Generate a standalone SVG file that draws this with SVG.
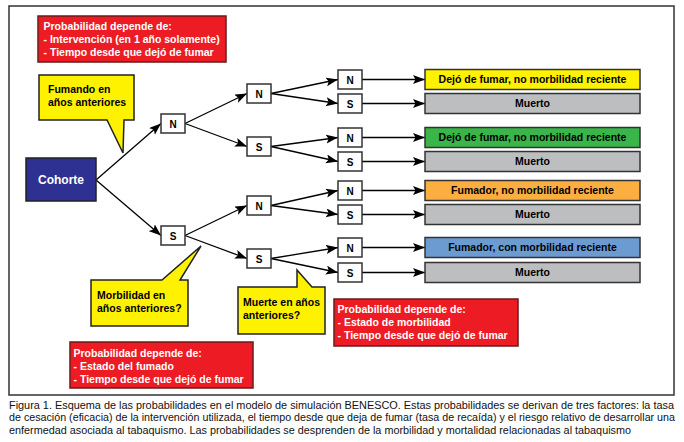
<svg xmlns="http://www.w3.org/2000/svg" width="684" height="442" viewBox="0 0 684 442">
<style>
text{font-family:"Liberation Sans",Arial,sans-serif;}
.b{font-weight:bold;font-size:10.5px;fill:#000;}
.w{font-weight:bold;font-size:10.5px;fill:#fff;}
.nd{font-weight:bold;font-size:10px;fill:#000;text-anchor:middle;}
.oc{font-weight:bold;font-size:10.5px;fill:#000;text-anchor:middle;}
.node{fill:#fff;stroke:#333;stroke-width:1.5;}
.out{stroke:#333;stroke-width:1.5;}
.red{fill:#ED1C24;stroke:#6B1A1A;stroke-width:1.5;}
.yel{fill:#FFF200;stroke:#222;stroke-width:1.5;stroke-linejoin:miter;}
.cap{font-size:10px;fill:#111;}
.edge{stroke:#000;stroke-width:1.3;fill:none;marker-end:url(#ah);}
</style>
<defs>
<marker id="ah" markerUnits="userSpaceOnUse" markerWidth="13" markerHeight="10" refX="12" refY="4.5" orient="auto">
<path d="M0,0 L12,4.5 L0,9 L2.5,4.5 Z" fill="#000"/>
</marker>
</defs>
<rect x="0" y="0" width="684" height="442" fill="#fff"/>
<rect x="9" y="6" width="665" height="389" fill="#fff" stroke="#333" stroke-width="1.5"/>

<g id="connectors">
<line class="edge" x1="96" y1="180" x2="161" y2="123.5"/>
<line class="edge" x1="96" y1="180" x2="161" y2="235.5"/>
<line class="edge" x1="185" y1="123.5" x2="247" y2="93.5"/>
<line class="edge" x1="185" y1="123.5" x2="247" y2="146.5"/>
<line class="edge" x1="185" y1="235.5" x2="247" y2="205.5"/>
<line class="edge" x1="185" y1="235.5" x2="247" y2="258.5"/>
<line class="edge" x1="271" y1="93.5" x2="338" y2="79.5"/>
<line class="edge" x1="271" y1="93.5" x2="338" y2="103.5"/>
<line class="edge" x1="271" y1="146.5" x2="338" y2="137.5"/>
<line class="edge" x1="271" y1="146.5" x2="338" y2="161.5"/>
<line class="edge" x1="271" y1="205.5" x2="338" y2="190.5"/>
<line class="edge" x1="271" y1="205.5" x2="338" y2="214.5"/>
<line class="edge" x1="271" y1="258.5" x2="338" y2="247.5"/>
<line class="edge" x1="271" y1="258.5" x2="338" y2="272.5"/>
<line class="edge" x1="362" y1="79.5" x2="425" y2="79.5"/>
<line class="edge" x1="362" y1="103.5" x2="425" y2="103.5"/>
<line class="edge" x1="362" y1="137.5" x2="425" y2="137.5"/>
<line class="edge" x1="362" y1="161.5" x2="425" y2="161.5"/>
<line class="edge" x1="362" y1="190.5" x2="425" y2="190.5"/>
<line class="edge" x1="362" y1="214.5" x2="425" y2="214.5"/>
<line class="edge" x1="362" y1="247.5" x2="425" y2="247.5"/>
<line class="edge" x1="362" y1="272.5" x2="425" y2="272.5"/>
</g>

<g id="cohorte">
<rect x="26" y="158" width="70" height="43" fill="#2E3192" stroke="#222" stroke-width="1.5"/>
<text x="61" y="184" font-weight="bold" font-size="12" fill="#fff" text-anchor="middle">Cohorte</text>
</g>

<g id="l1n"><rect class="node" x="161" y="114" width="24" height="19"/><text class="nd" x="173" y="127.5">N</text></g>
<g id="l1s"><rect class="node" x="161" y="226" width="24" height="19"/><text class="nd" x="173" y="239.5">S</text></g>
<g id="l2na"><rect class="node" x="247" y="84" width="24" height="19"/><text class="nd" x="259" y="97.5">N</text></g>
<g id="l2sa"><rect class="node" x="247" y="137" width="24" height="19"/><text class="nd" x="259" y="150.5">S</text></g>
<g id="l2nb"><rect class="node" x="247" y="196" width="24" height="19"/><text class="nd" x="259" y="209.5">N</text></g>
<g id="l2sb"><rect class="node" x="247" y="249" width="24" height="19"/><text class="nd" x="259" y="262.5">S</text></g>

<g id="l3n1"><rect class="node" x="338" y="70" width="24" height="19"/><text class="nd" x="350" y="83.5">N</text></g>
<g id="l3s1"><rect class="node" x="338" y="94" width="24" height="19"/><text class="nd" x="350" y="107.5">S</text></g>
<g id="l3n2"><rect class="node" x="338" y="128" width="24" height="19"/><text class="nd" x="350" y="141.5">N</text></g>
<g id="l3s2"><rect class="node" x="338" y="152" width="24" height="19"/><text class="nd" x="350" y="165.5">S</text></g>
<g id="l3n3"><rect class="node" x="338" y="181" width="24" height="19"/><text class="nd" x="350" y="194.5">N</text></g>
<g id="l3s3"><rect class="node" x="338" y="205" width="24" height="19"/><text class="nd" x="350" y="218.5">S</text></g>
<g id="l3n4"><rect class="node" x="338" y="238" width="24" height="19"/><text class="nd" x="350" y="251.5">N</text></g>
<g id="l3s4"><rect class="node" x="338" y="263" width="24" height="19"/><text class="nd" x="350" y="276.5">S</text></g>

<g id="o1"><rect class="out" x="425" y="69.5" width="215" height="20" fill="#FFF200"/><text class="oc" x="532.5" y="83.3">Dejó de fumar, no morbilidad reciente</text></g>
<g id="o2"><rect class="out" x="425" y="93.5" width="215" height="20" fill="#BCBEC0"/><text class="oc" x="532.5" y="107.3">Muerto</text></g>
<g id="o3"><rect class="out" x="425" y="127.5" width="215" height="20" fill="#39B54A"/><text class="oc" x="532.5" y="141.3">Dejó de fumar, no morbilidad reciente</text></g>
<g id="o4"><rect class="out" x="425" y="151.5" width="215" height="20" fill="#BCBEC0"/><text class="oc" x="532.5" y="165.3">Muerto</text></g>
<g id="o5"><rect class="out" x="425" y="180.5" width="215" height="20" fill="#FBAF41"/><text class="oc" x="532.5" y="194.3">Fumador, no morbilidad reciente</text></g>
<g id="o6"><rect class="out" x="425" y="204.5" width="215" height="20" fill="#BCBEC0"/><text class="oc" x="532.5" y="218.3">Muerto</text></g>
<g id="o7"><rect class="out" x="425" y="237.5" width="215" height="20" fill="#6C9BD2"/><text class="oc" x="532.5" y="251.3">Fumador, con morbilidad reciente</text></g>
<g id="o8"><rect class="out" x="425" y="262.5" width="215" height="20" fill="#BCBEC0"/><text class="oc" x="532.5" y="276.3">Muerto</text></g>

<g id="red1">
<rect class="red" x="38" y="16" width="188" height="46"/>
<text class="w" x="43.5" y="29.5">Probabilidad depende de:</text>
<text class="w" x="43.5" y="42.5">- Intervención (en 1 año solamente)</text>
<text class="w" x="43.5" y="55.5">- Tiempo desde que dejó de fumar</text>
</g>

<g id="red2">
<rect class="red" x="70" y="342" width="183" height="46"/>
<text class="w" x="73.5" y="356.7">Probabilidad depende de:</text>
<text class="w" x="73.5" y="369.7">- Estado del fumado</text>
<text class="w" x="73.5" y="382.7">- Tiempo desde que dejó de fumar</text>
</g>

<g id="red3">
<rect class="red" x="334" y="299" width="184" height="47"/>
<text class="w" x="337.5" y="313">Probabilidad depende de:</text>
<text class="w" x="337.5" y="326">- Estado de morbilidad</text>
<text class="w" x="337.5" y="339">- Tiempo desde que dejó de fumar</text>
</g>

<g id="callout1">
<path class="yel" d="M39,75 L134,75 L134,120 L124,120 L123,153 L107,120 L39,120 Z"/>
<text class="b" x="48" y="93.3">Fumando en</text>
<text class="b" x="48" y="106.3">años anteriores</text>
</g>

<g id="callout2">
<path class="yel" d="M91,280 L162,280 L201,246 L180,280 L188,280 L188,326 L91,326 Z"/>
<text class="b" x="97" y="299">Morbilidad en</text>
<text class="b" x="97" y="312">años anteriores?</text>
</g>

<g id="callout3">
<path class="yel" d="M238,287 L297,287 L297,270 L312,287 L325,287 L325,334 L238,334 Z"/>
<text class="b" x="243" y="306">Muerte en años</text>
<text class="b" x="243" y="319">anteriores?</text>
</g>

<g id="caption" xml:space="preserve">
<text class="cap" x="9" y="408.5" textLength="665" lengthAdjust="spacingAndGlyphs">Figura 1. Esquema de las probabilidades en el modelo de simulación BENESCO.  Estas probabilidades se derivan de tres factores: la tasa</text>
<text class="cap" x="9" y="421.3" textLength="666" lengthAdjust="spacingAndGlyphs">de cesación (eficacia) de la intervención utilizada, el tiempo desde que deja de fumar (tasa de recaída) y el riesgo relativo de desarrollar una</text>
<text class="cap" x="9" y="434" textLength="622" lengthAdjust="spacingAndGlyphs">enfermedad asociada al tabaquismo.  Las probabilidades se desprenden de la morbilidad y mortalidad relacionadas al tabaquismo</text>
</g>
</svg>
